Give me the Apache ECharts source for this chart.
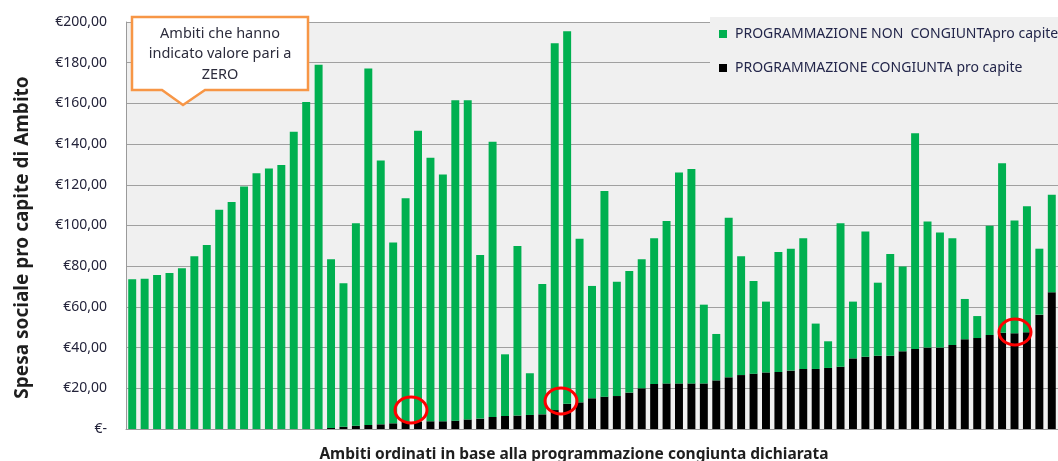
<!DOCTYPE html>
<html>
<head>
<meta charset="utf-8">
<script src="https://cdn.jsdelivr.net/npm/echarts@6/dist/echarts.min.js"></script>
<style>
  html, body { margin: 0; padding: 0; background: #fff; }
  #chart { width: 1058px; height: 461px; }
</style>
</head>
<body>
<div id="chart"></div>
<script>
// valori pro capite per ambito (ordinati per programmazione congiunta)
const congiunta = [
  0, 0, 0, 0, 0, 0, 0, 0, 0, 0, 0, 0, 0, 0, 0, 0,
  0.5, 1.1, 1.6, 2.0, 2.3, 2.8, 3.6, 3.6, 3.8, 3.8, 4.1, 4.7, 5.1, 5.9,
  6.4, 6.6, 6.9, 7.2, 9.3, 12.4, 13.1, 15.1, 15.9, 16.2, 17.9, 20.0, 22.1, 22.4,
  22.4, 22.4, 22.4, 23.9, 25.4, 26.5, 27.2, 27.8, 28.0, 28.7, 29.5, 29.5, 30.0, 30.6,
  34.7, 35.5, 36.0, 36.0, 38.2, 39.3, 40.0, 40.0, 41.3, 44.1, 44.7, 46.2, 47.3, 47.0,
  47.5, 56.2, 67.2
];
const nonCongiunta = [
  73.6, 73.8, 75.7, 76.7, 79.0, 84.9, 90.4, 107.8, 111.5, 119.2, 125.7, 128.0, 129.7, 146.1, 160.7, 179.0,
  82.9, 70.5, 99.5, 175.2, 129.7, 88.8, 109.8, 143.0, 129.5, 121.3, 157.4, 156.8, 80.4, 135.3,
  30.3, 83.3, 20.5, 64.1, 180.2, 183.0, 80.4, 55.2, 101.1, 56.2, 59.7, 63.4, 71.6, 79.8,
  103.7, 105.4, 38.7, 22.8, 78.4, 58.4, 45.5, 34.8, 59.0, 59.9, 64.2, 22.3, 13.1, 70.5,
  27.9, 61.5, 35.9, 50.0, 41.6, 106.0, 62.0, 56.6, 52.4, 19.8, 10.8, 53.7, 83.3, 55.4,
  61.9, 32.4, 47.9
];
const ambiti = congiunta.map((_, i) => 'Ambito ' + (i + 1));
const yTicks = [0, 20, 40, 60, 80, 100, 120, 140, 160, 180, 200];

const nomeNon = 'PROGRAMMAZIONE NON  CONGIUNTApro capite';
const nomeCong = 'PROGRAMMAZIONE CONGIUNTA pro capite';

const font = 'Noto Sans';
const chart = echarts.init(document.getElementById('chart'));

const option = {
  animation: false,
  textStyle: { fontFamily: font },
  grid: {
    left: 126, right: 0, top: 22, bottom: 32,
    outerBoundsMode: 'none',
    show: true, backgroundColor: '#f0f0f0', borderWidth: 0
  },
  legend: {
    orient: 'vertical',
    left: 710, top: 17,
    padding: [10, 20, 16, 9],
    itemGap: 20,
    itemWidth: 8, itemHeight: 8,
    icon: 'rect',
    backgroundColor: '#f0f0f0',
    data: [nomeNon, nomeCong],
    textStyle: { fontFamily: font, fontSize: 14, color: '#23264a', padding: [0, 0, 0, 3] }
  },
  xAxis: {
    type: 'category',
    data: ambiti,
    axisLine: { lineStyle: { color: '#9a9a9a', width: 1 } },
    axisTick: { show: false },
    axisLabel: { show: false },
    name: 'Ambiti ordinati in base alla programmazione congiunta dichiarata',
    nameLocation: 'middle',
    nameGap: 18,
    nameTextStyle: { fontFamily: font, fontSize: 15.5, fontWeight: 'bold', color: '#1e1e1e', padding: [0, 36, 0, 0] }
  },
  yAxis: {
    type: 'value',
    min: yTicks[0], max: yTicks[yTicks.length - 1], interval: 20,
    axisLine: { show: true, lineStyle: { color: '#9a9a9a', width: 1 } },
    axisTick: { show: false },
    splitLine: { lineStyle: { color: '#a0a0a0', width: 1 } },
    axisLabel: {
      margin: 19,
      fontFamily: font, fontSize: 14, color: '#23233a',
      formatter: v => v === 0 ? '€-' : '€' + v.toFixed(2).replace('.', ',')
    },
    name: 'Spesa sociale pro capite di Ambito',
    nameLocation: 'middle',
    nameGap: 94,
    nameTextStyle: { fontFamily: font, fontSize: 19, fontWeight: 'bold', color: '#1e1e1e', padding: [0, 24, 0, 0] }
  },
  series: [
    {
      name: nomeCong, type: 'bar', stack: 'tot', data: congiunta,
      barCategoryGap: '36%',
      itemStyle: { color: '#000000' }
    },
    {
      name: nomeNon, type: 'bar', stack: 'tot', data: nonCongiunta,
      barCategoryGap: '36%',
      itemStyle: { color: '#00b050' }
    }
  ],
  graphic: [
    {
      type: 'polygon',
      z: 100,
      shape: { points: [[132, 17], [308, 17], [308, 90], [205, 90], [183, 105], [162, 90], [132, 90]] },
      style: { fill: '#ffffff', stroke: '#f79646', lineWidth: 2.5 }
    },
    {
      type: 'text', z: 101, x: 220, y: 54,
      style: {
        text: 'Ambiti che hanno\nindicato valore pari a\nZERO',
        fontFamily: font, fontSize: 14.5, lineHeight: 20.5, fill: '#2c2c3c',
        align: 'center', verticalAlign: 'middle'
      }
    },
    { type: 'ellipse', z: 100, shape: { cx: 411, cy: 410, rx: 16, ry: 13 }, style: { fill: 'none', stroke: '#ff0000', lineWidth: 3 } },
    { type: 'ellipse', z: 100, shape: { cx: 561, cy: 401, rx: 16, ry: 13 }, style: { fill: 'none', stroke: '#ff0000', lineWidth: 3 } },
    { type: 'ellipse', z: 100, shape: { cx: 1015, cy: 332, rx: 16, ry: 13 }, style: { fill: 'none', stroke: '#ff0000', lineWidth: 3 } }
  ]
};
chart.setOption(option);
</script>
</body>
</html>
